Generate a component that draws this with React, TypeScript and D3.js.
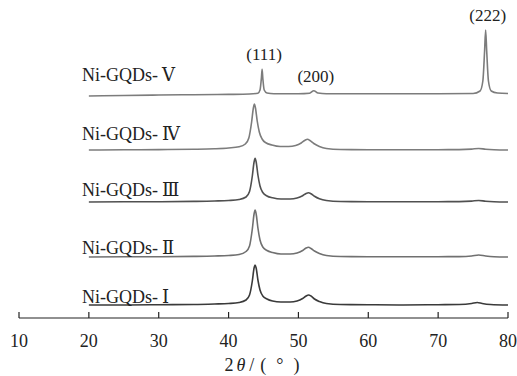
import React from 'react';
import * as d3 from 'd3';

// sample names, bottom to top
const samplePrefix = 'Ni-GQDs-';
const sampleNumerals = ['Ⅰ', 'Ⅱ', 'Ⅲ', 'Ⅳ', 'Ⅴ'];
// vertical stacking offset of each pattern (a.u.)
const stackOffsets = [13, 61, 116, 168, 222];

// [2theta, intensity above offset]
const seriesI: [number, number][] = [
  [20, 0], [25, 0], [30, 0.3], [35, 0.5], [38, 1], [40, 1.5], [41.5, 2.5], [42.5, 5], [43, 10],
  [43.4, 24], [43.65, 37], [43.8, 40], [43.95, 37], [44.2, 25], [44.5, 15], [44.9, 9], [45.5, 6],
  [46.3, 4], [47.5, 3], [48.8, 3], [49.8, 4], [50.6, 6.5], [51.1, 9], [51.45, 10], [51.8, 9],
  [52.3, 6], [53, 3.5], [54, 1.5], [56, 0.5], [60, 0.3], [65, 0], [70, 0.3], [73, 0.5],
  [74.8, 1.5], [75.6, 2.5], [76.3, 1.5], [77.5, 0.5], [80, 0],
];
const seriesII: [number, number][] = [
  [20, 0], [25, 0.2], [30, 0.3], [35, 0.6], [38, 1], [40, 1.5], [41.5, 2.5], [42.5, 5.5], [43, 11],
  [43.4, 28], [43.65, 43], [43.8, 47], [43.95, 43], [44.2, 29], [44.5, 17], [44.9, 10], [45.5, 6.5],
  [46.3, 4.5], [47.5, 3], [48.8, 3], [49.8, 4], [50.6, 6.5], [51.1, 9], [51.45, 9.7], [51.8, 8.5],
  [52.3, 6], [53, 3.5], [54, 1.5], [56, 0.5], [60, 0.3], [65, 0.2], [70, 0.3], [73, 0.4],
  [74.8, 1], [75.8, 2], [76.8, 1], [78, 0.3], [80, 0],
];
const seriesIII: [number, number][] = [
  [20, 0], [25, 0.2], [30, 0.3], [35, 0.6], [38, 1], [40, 1.5], [41.5, 2.5], [42.5, 5], [43, 10.5],
  [43.4, 26], [43.65, 40], [43.8, 43.7], [43.95, 40], [44.2, 27], [44.5, 16], [44.9, 9.5], [45.5, 6],
  [46.3, 4.2], [47.5, 3], [48.8, 3], [49.8, 4], [50.6, 6.3], [51.1, 8.6], [51.45, 9.3], [51.8, 8.3],
  [52.3, 5.8], [53, 3.3], [54, 1.5], [56, 0.5], [60, 0.3], [65, 0.2], [70, 0.3], [73, 0.4],
  [74.8, 0.9], [75.8, 1.5], [76.8, 0.8], [78, 0.3], [80, 0],
];
const seriesIV: [number, number][] = [
  [20, 0], [25, 0.2], [30, 0.4], [35, 0.7], [38, 1.2], [40, 2], [41.5, 3.2], [42.4, 6], [42.9, 12],
  [43.3, 28], [43.55, 42], [43.7, 46], [43.85, 42], [44.1, 29], [44.4, 18], [44.8, 11], [45.4, 7],
  [46.2, 5], [47.4, 3.5], [48.6, 3.5], [49.6, 4.5], [50.4, 7], [50.95, 9.8], [51.3, 10.7], [51.65, 9.5],
  [52.2, 6.5], [53, 3.5], [54, 1.5], [56, 0.5], [60, 0.3], [65, 0.2], [70, 0.3], [73, 0.4],
  [74.8, 0.9], [75.8, 1.5], [76.8, 0.8], [78, 0.3], [80, 0],
];
const seriesV: [number, number][] = [
  [20, 0], [25, 0.5], [30, 1], [35, 1.3], [40, 1.6], [43, 2], [44.2, 2.8], [44.5, 6], [44.7, 18],
  [44.8, 26.7], [44.9, 18], [45.1, 6], [45.5, 3], [46.5, 2.3], [50, 2.3], [51.6, 2.8], [52.2, 5.3],
  [52.8, 3], [54, 2.3], [60, 2.3], [70, 2.3], [75, 2.5], [76, 5], [76.4, 15], [76.65, 45],
  [76.8, 66], [76.95, 45], [77.2, 15], [77.6, 5], [78.5, 3], [80, 2.5],
];
const allSeries = [seriesI, seriesII, seriesIII, seriesIV, seriesV];

// Miller indices marked on the top pattern
const hklLabels = ['(111)', '(200)', '(222)'];
const hklAngles = [44.8, 52.2, 76.8];

const xTicks = [10, 20, 30, 40, 50, 60, 70, 80];

const lineColors = ['#3a3a3a', '#707070', '#505050', '#7c7c7c', '#7c7c7c'];
const labelLift = [2, 3, 6, 10, 15];

const W = 517;
const H = 376;
const font = '"Liberation Serif", "DejaVu Serif", "Noto Sans CJK SC", serif';

export default function App() {
  const x = d3.scaleLinear().domain([10, 80]).range([19, 508]);
  const y = d3.scaleLinear().domain([0, 300]).range([318, 18]);
  const axisY = y(0);

  const makeLine = (offset: number) =>
    d3.line<[number, number]>()
      .x(d => x(d[0]))
      .y(d => y(d[1] + offset))
      .curve(d3.curveMonotoneX);

  const top = seriesV;
  const peakAt = (angle: number) => {
    const p = top.find(d => d[0] === angle);
    return p ? p[1] : 0;
  };

  return (
    <svg width={W} height={H} style={{ position: 'absolute', left: 0, top: 0, fontFamily: font }}>
      <rect width={W} height={H} fill="#fff" />
      {allSeries.map((s, i) => (
        <g key={sampleNumerals[i]}>
          <path d={makeLine(stackOffsets[i])(s) || ''} fill="none" stroke={lineColors[i]}
            strokeWidth={1.6} strokeLinejoin="round" />
          <text x={82} y={y(stackOffsets[i]) - labelLift[i]} fontSize={18} fill="#222"
            style={{ fontFamily: font }}>
            {samplePrefix}
            <tspan dx={4}>{sampleNumerals[i]}</tspan>
          </text>
        </g>
      ))}
      {hklLabels.map((t, i) => (
        <text key={t} x={x(hklAngles[i]) + 2} y={y(peakAt(hklAngles[i]) + stackOffsets[4]) - 9}
          fontSize={17} fill="#222" textAnchor="middle" style={{ fontFamily: font }}>
          {t}
        </text>
      ))}
      <line x1={x(10)} x2={x(80)} y1={axisY} y2={axisY} stroke="#222" strokeWidth={1.2} />
      {xTicks.map(t => (
        <g key={t}>
          <line x1={x(t)} x2={x(t)} y1={axisY} y2={axisY - 6} stroke="#222" strokeWidth={1.2} />
          <text x={x(t)} y={347} fontSize={18} fill="#222" textAnchor="middle"
            style={{ fontFamily: font }}>{t}</text>
        </g>
      ))}
      <text x={262} y={371} fontSize={18} fill="#222" textAnchor="middle" style={{ fontFamily: font }}>
        <tspan>2</tspan>
        <tspan dx={3} fontStyle="italic">θ</tspan>
        <tspan dx={4}>/</tspan>
        <tspan dx={6}>(</tspan>
        <tspan dx={10}>°</tspan>
        <tspan dx={10}>)</tspan>
      </text>
    </svg>
  );
}
